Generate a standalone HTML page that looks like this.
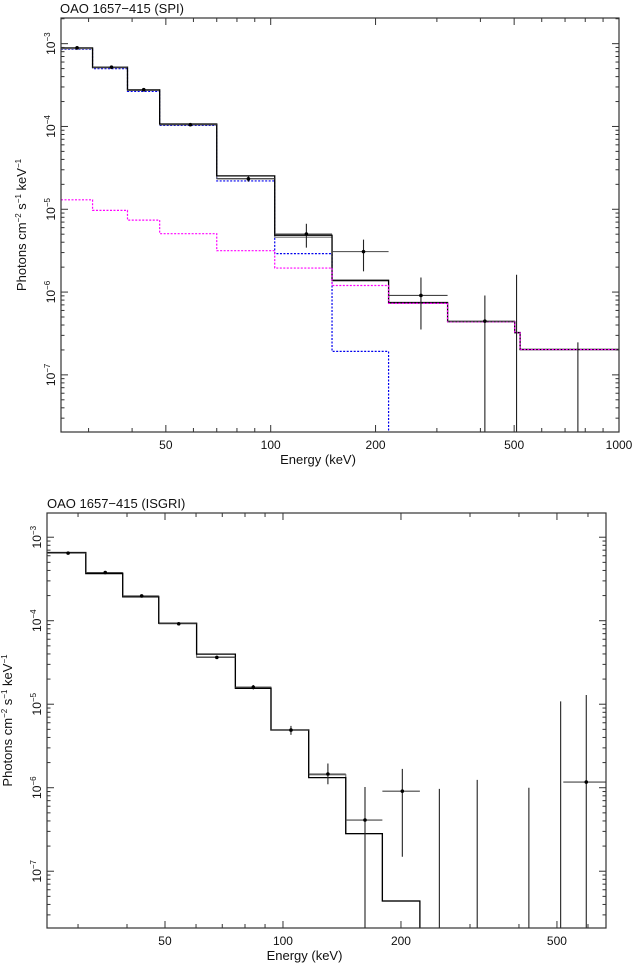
<!DOCTYPE html>
<html><head><meta charset="utf-8"><style>
html,body{margin:0;padding:0;background:#fff;}
svg{display:block;font-family:"Liberation Sans",sans-serif;}
</style></head><body>
<svg id="c" width="635" height="965" viewBox="0 0 635 965" xmlns="http://www.w3.org/2000/svg"></svg>
<script>
// ---- SPI panel data ----
const spiEdges = [25,30.8,38.8,48,70,102.7,150,218,322,502,520,1000];
const spiModel = [8.9e-4,5.2e-4,2.77e-4,1.07e-4,2.53e-5,4.86e-6,1.39e-6,7.47e-7,4.41e-7,3.25e-7,2.03e-7];
const spiModel2 = [8.7e-4,5.1e-4,2.72e-4,1.05e-4,2.35e-5,4.6e-6,1.36e-6,7.3e-7,4.35e-7,3.2e-7,2.0e-7];
const spiComp1 = [8.6e-4,5.0e-4,2.65e-4,1.03e-4,2.2e-5,2.91e-6,1.92e-7];
const spiComp2 = [1.3e-5,9.7e-6,7.4e-6,5.07e-6,3.16e-6,1.95e-6,1.2e-6,7.3e-7,4.38e-7,3.22e-7,2.02e-7];
const spiPtE = [27.8,34.9,43.2,58.8,86.3,126.6,184.7,270,412,508,762];
const spiPtLo = [25,30.8,38.8,48,70,102.7,150,218,322,502,520];
const spiPtHi = [30.8,38.8,48,70,102.7,150,218,322,502,520,1000];
const spiPtY = [8.9e-4,5.2e-4,2.78e-4,1.05e-4,2.33e-5,5.02e-6,3.08e-6,9.1e-7,4.45e-7,null,null];
const spiErrLo = [8.6e-4,5.05e-4,2.7e-4,1.01e-4,2.15e-5,3.44e-6,1.78e-6,3.53e-7,1e-9,1e-9,1e-9];
const spiErrHi = [9.2e-4,5.35e-4,2.86e-4,1.09e-4,2.5e-5,6.68e-6,4.3e-6,1.5e-6,9.1e-7,1.62e-6,2.47e-7];
// ---- ISGRI panel data ----
const isgEdges = [25,31.4,39,48.2,60.2,75.6,93.2,116.3,144.6,179.3,223.5];
const isgModel = [6.56e-4,3.67e-4,1.93e-4,9.33e-5,3.98e-5,1.55e-5,4.92e-6,1.32e-6,2.82e-7,4.4e-8];
const isgModel2 = [6.5e-4,3.75e-4,1.97e-4,9.3e-5,3.68e-5,1.6e-5,4.9e-6,1.43e-6,2.82e-7,4.4e-8];
const isgPtE = [28.3,35.2,43.6,54.2,67.8,84,104.8,130.2,161.9,201.6,250.6,313,424,511,594];
const isgPtLo = [25,31.4,39,48.2,60.2,75.6,93.2,116.3,144.6,179.3,null,null,null,null,519];
const isgPtHi = [31.4,39,48.2,60.2,75.6,93.2,116.3,144.6,179.3,223.5,null,null,null,null,667];
const isgPtY = [6.45e-4,3.78e-4,1.98e-4,9.2e-5,3.64e-5,1.6e-5,4.9e-6,1.46e-6,4.1e-7,9.1e-7,null,null,null,null,1.17e-6];
const isgErrLo = [6.3e-4,3.7e-4,1.94e-4,9.0e-5,3.5e-5,1.5e-5,4.3e-6,1.1e-6,1e-9,1.49e-7,1e-9,1e-9,1e-9,1e-9,1e-9];
const isgErrHi = [6.6e-4,3.86e-4,2.02e-4,9.4e-5,3.8e-5,1.7e-5,5.5e-6,1.95e-6,1.02e-6,1.68e-6,9.7e-7,1.24e-6,1.0e-6,1.08e-5,1.29e-5];
const spiXTicks = [50,100,200,500,1000];
const isgXTicks = [50,100,200,500];
const yTickExp = [-3,-4,-5,-6,-7];

const NS="http://www.w3.org/2000/svg";
const svg=document.getElementById('c');
function mk(tag,attrs,parent){const e=document.createElementNS(NS,tag);for(const k in attrs)e.setAttribute(k,attrs[k]);(parent||svg).appendChild(e);return e;}

function panel(cfg){
  const g=mk('g',{});
  
  
  const L=cfg.x0,R=cfg.x1,T=cfg.y0,B=cfg.y1;
  const lx0=Math.log10(cfg.emin),lx1=Math.log10(cfg.emax);
  const ly0=cfg.lymin,ly1=cfg.lymax;
  const X=e=>L+(Math.log10(e)-lx0)/(lx1-lx0)*(R-L);
  const Y=v=>{let l=Math.log10(v);if(l<ly0)l=ly0;return B-(l-ly0)/(ly1-ly0)*(B-T);};
  const cp='clip-'+cfg.name;
  const d=mk('clipPath',{id:cp},g);mk('rect',{x:L,y:T,width:R-L,height:B-T},d);
  const plot=mk('g',{'clip-path':'url(#'+cp+')'},g);
  function step(edges,vals,stroke,w,dash,name,dropEnd){
    let p='';
    for(let i=0;i<vals.length;i++){
      const xa=X(edges[i]),xb=X(edges[i+1]),y=Y(vals[i]);
      p+=(i===0?'M':'L')+xa+','+y+' L'+xb+','+y+' ';
    }
    if(dropEnd)p+='L'+X(edges[vals.length])+','+(B+5);
    const e=mk('path',{d:p,fill:'none',stroke:stroke,'stroke-width':w},plot);
    if(dash)e.setAttribute('stroke-dasharray',dash);
    
    
  }
  cfg.steps.forEach(s=>step(s.edges,s.vals,s.stroke,s.w,s.dash,s.name,s.drop));
  const pts=cfg.pts;
  for(let i=0;i<pts.E.length;i++){
    const pg=mk('g',{},plot);
    
    
    const x=X(pts.E[i]);
    mk('line',{x1:x,x2:x,y1:Y(pts.eh[i]),y2:Y(pts.el[i]),stroke:'#222','stroke-width':1.1},pg);
    if(pts.y[i]!==null){
      const y=Y(pts.y[i]);
      if(pts.lo[i]!==null)mk('line',{x1:X(pts.lo[i]),x2:X(pts.hi[i]),y1:y,y2:y,stroke:'#444','stroke-width':1.1},pg);
      mk('circle',{cx:x,cy:y,r:1.8,fill:'#000'},pg);
    }
  }
  const fr=mk('rect',{x:L,y:T,width:R-L,height:B-T,fill:'none',stroke:'#333','stroke-width':1.2},g);
  
  
  const tk=mk('g',{stroke:'#333','stroke-width':1},g);
  for(let dec=10;dec<=1000;dec*=10){
    for(let m=1;m<10;m++){
      const e=m*dec;if(e<cfg.emin||e>cfg.emax)continue;
      const x=X(e);const major=(m===1||m===2||m===5);const len=major?7:4;
      mk('line',{x1:x,x2:x,y1:B,y2:B-len},tk);mk('line',{x1:x,x2:x,y1:T,y2:T+len},tk);
    }
  }
  for(let ex=-8;ex<=-2;ex++){
    for(let m=1;m<10;m++){
      const v=m*Math.pow(10,ex);const l=Math.log10(v);if(l<ly0||l>ly1)continue;
      const y=Y(v);const len=m===1?7:3.5;
      mk('line',{x1:L,x2:L+len,y1:y,y2:y},tk);mk('line',{x1:R,x2:R-len,y1:y,y2:y},tk);
    }
  }
  cfg.xticks.forEach(t=>{
    const e=mk('text',{x:X(t),y:B+17,'font-size':12,'text-anchor':'middle',fill:'#111'},g);
    e.textContent=t;
    
    
  });
  yTickExp.forEach(ex=>{
    const y=Y(Math.pow(10,ex));
    const e=mk('text',{transform:'translate('+(L-6)+','+y+') rotate(-90)','font-size':12,'text-anchor':'middle',fill:'#111'},g);
    
    
    const a=mk('tspan',{},e);a.textContent='10';
    const b=mk('tspan',{dy:-5,'font-size':8},e);b.textContent='\u2212'+(-ex);
  });
  const xl=mk('text',{x:(L+R)/2-22,y:B+32,'font-size':13,'text-anchor':'middle',fill:'#111'},g);
  xl.textContent='Energy (keV)';
  
  
  const yl=mk('text',{transform:'translate('+cfg.ylx+','+(T+B)/2+') rotate(-90)','font-size':13,'text-anchor':'middle',fill:'#111'},g);
  
  
  const parts=[['Photons cm',0,13],['\u22122',-5,8],[' s',5,13],['\u22121',-5,8],[' keV',5,13],['\u22121',-5,8]];
  parts.forEach(p=>{const s=mk('tspan',{dy:p[1],'font-size':p[2]},yl);s.textContent=p[0];});
  const tt=mk('text',{x:cfg.titleX,y:T-5,'font-size':13,fill:'#111'},g);
  tt.textContent=cfg.title;
  
  
}

panel({name:'spi-panel',title:'OAO 1657\u2212415 (SPI)',titleX:60,x0:61,x1:619,y0:18,y1:432,emin:25,emax:1000,lymin:-7.69,lymax:-2.69,ylx:26,xticks:spiXTicks,
  steps:[
    {edges:spiEdges,vals:spiComp1,stroke:'#0000ee',w:1.2,dash:'2,1.5',name:'component-1-blue',drop:true},
    {edges:spiEdges,vals:spiModel2,stroke:'#777',w:1.1,name:'model-alt'},
    {edges:spiEdges,vals:spiModel,stroke:'#000',w:1.3,name:'model-total'},
    {edges:spiEdges,vals:spiComp2,stroke:'#ff00ff',w:1.2,dash:'2,1.5',name:'component-2-magenta'}
  ],
  pts:{E:spiPtE,lo:spiPtLo,hi:spiPtHi,y:spiPtY,el:spiErrLo,eh:spiErrHi}});

panel({name:'isgri-panel',title:'OAO 1657\u2212415 (ISGRI)',titleX:47,x0:47,x1:606,y0:513,y1:928,emin:25,emax:667,lymin:-7.68,lymax:-2.71,ylx:12,xticks:isgXTicks,
  steps:[
    {edges:isgEdges,vals:isgModel2,stroke:'#777',w:1.2,name:'model-alt'},
    {edges:isgEdges,vals:isgModel,stroke:'#000',w:1.3,name:'model-total',drop:true}
  ],
  pts:{E:isgPtE,lo:isgPtLo,hi:isgPtHi,y:isgPtY,el:isgErrLo,eh:isgErrHi}});
</script>
</body></html>
